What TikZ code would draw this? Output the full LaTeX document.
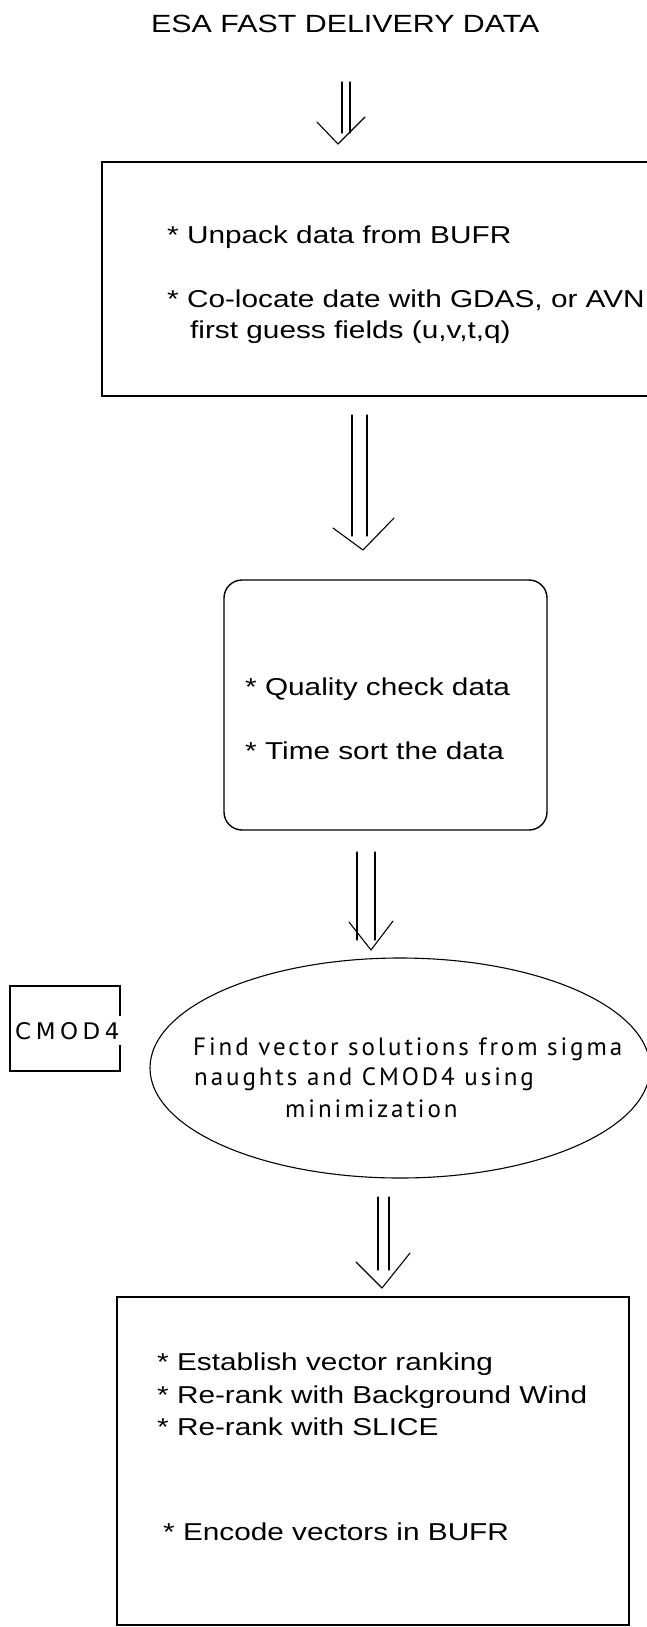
\documentclass[tikz,border=0pt]{standalone}
\usepackage{fontspec}
\setmainfont{Liberation Sans}[FakeStretch=1.22]
\newfontfamily\thinfont{PT Sans}[LetterSpace=11.7]
\newfontfamily\cmodfont{DejaVu Sans}[LetterSpace=20]
\usetikzlibrary{shapes.geometric}
\newcommand{\bodysize}{\fontsize{24.4pt}{31pt}\selectfont}
\newcommand{\titlesize}{\fontsize{24.9pt}{31pt}\selectfont}
\newcommand{\thinsize}{\fontsize{25pt}{30pt}\selectfont}
\newcommand{\cmodsize}{\fontsize{22.9pt}{28pt}\selectfont}
\begin{document}
\begin{tikzpicture}[x=1pt,y=-1pt,
  frame/.style={draw, line width=1.4pt, inner sep=0pt},
  conn/.style={line width=1.1pt, line cap=round, line join=round},
  txt/.style={anchor=base west, inner sep=0pt, font=\bodysize},
  thintxt/.style={anchor=base west, inner sep=0pt, font=\thinfont\thinsize},
]
\fill[white] (0,0) rectangle (647,1627);
\useasboundingbox (0,0) rectangle (647,1627);

% title
\node[txt, font=\titlesize] (title) at (151,33) {ESA FAST DELIVERY DATA};

% box 1
\node[frame, minimum width=560pt, minimum height=234pt] (box1) at (382,279) {};
\node[txt] (b1a) at (167,243) {* Unpack data from BUFR};
\node[txt] (b1b) at (167,307) {* Co-locate date with GDAS, or AVN};
\node[txt] (b1c) at (190,338) {first guess fields (u,v,t,q)};

% box 2 (rounded)
\node[frame, rounded corners=18pt, minimum width=323pt, minimum height=250pt] (box2) at (385.5,705) {};
\node[txt] (b2a) at (245,695) {* Quality check data};
\node[txt] (b2b) at (245,759) {* Time sort the data};

% CMOD4 box
\node[frame, line width=1.1pt, minimum width=110pt, minimum height=85pt] (cmod) at (65,1028.5) {};
\node[anchor=base west, inner xsep=2pt, inner ysep=6pt, fill=white, font=\cmodfont\cmodsize] (cmodtxt) at (13,1039) {CMOD4};

% ellipse
\node[draw, ellipse, line width=1.1pt, minimum width=500pt, minimum height=220pt, inner sep=0pt] (ell) at (400,1068) {};
\node[thintxt] (e1) at (193,1055) {Find vector solutions from sigma};
\node[thintxt] (e2) at (194,1085) {naughts and CMOD4 using};
\node[thintxt] (e3) at (285,1117) {minimization};

% box 4
\node[frame, minimum width=512pt, minimum height=328pt] (box4) at (373,1461) {};
\node[txt] (b4a) at (157,1370) {* Establish vector ranking};
\node[txt] (b4b) at (157,1403) {* Re-rank with Background Wind};
\node[txt] (b4c) at (157,1435) {* Re-rank with SLICE};
\node[txt] (b4d) at (163,1540) {* Encode vectors in BUFR};

% arrow 1: title -> box1
\coordinate (a1s) at (346,82);
\coordinate (a1e) at (346,133);
\coordinate (a1t) at (338,144);
\draw[conn] ([xshift=-4pt]a1s) -- ([xshift=-4pt]a1e);
\draw[conn] ([xshift=4pt]a1s) -- ([xshift=4pt]a1e);
\draw[conn] ([shift={(-21pt,22pt)}]a1t) -- (a1t) -- ([shift={(27pt,27pt)}]a1t);

% arrow 2: box1 -> box2
\coordinate (a2s) at (359.5,415);
\coordinate (a2e) at (359.5,536);
\coordinate (a2t) at (363,550);
\draw[conn] ([xshift=-7.5pt]a2s) -- ([xshift=-7.5pt]a2e);
\draw[conn] ([xshift=7.5pt]a2s) -- ([xshift=7.5pt]a2e);
\draw[conn] ([shift={(-30pt,22pt)}]a2t) -- (a2t) -- ([shift={(31pt,32pt)}]a2t);

% arrow 3: box2 -> ellipse
\coordinate (a3s) at (366,852);
\coordinate (a3e) at (366,940);
\coordinate (a3t) at (371,950);
\draw[conn] ([xshift=-9pt]a3s) -- ([xshift=-9pt]a3e);
\draw[conn] ([xshift=9pt]a3s) -- ([xshift=9pt]a3e);
\draw[conn] ([shift={(-22pt,28pt)}]a3t) -- (a3t) -- ([shift={(22pt,29pt)}]a3t);

% arrow 4: ellipse -> box4
\coordinate (a4s) at (383.5,1197);
\coordinate (a4e) at (383.5,1270);
\coordinate (a4t) at (382,1288);
\draw[conn] ([xshift=-5.5pt]a4s) -- ([xshift=-5.5pt]a4e);
\draw[conn] ([xshift=5.5pt]a4s) -- ([xshift=5.5pt]a4e);
\draw[conn] ([shift={(-26pt,26pt)}]a4t) -- (a4t) -- ([shift={(28pt,35pt)}]a4t);
\end{tikzpicture}
\end{document}
